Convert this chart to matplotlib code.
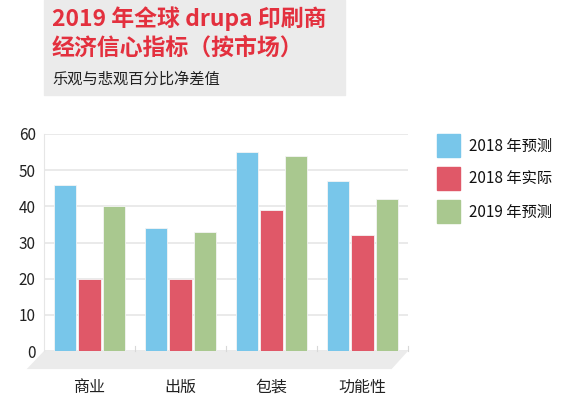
import numpy as np
import matplotlib.pyplot as plt
from matplotlib.patches import Polygon, Rectangle

plt.rcParams['font.family'] = ['Noto Sans CJK SC', 'DejaVu Sans']

categories = ["商业", "出版", "包装", "功能性"]
series = ["2018 年预测", "2018 年实际", "2019 年预测"]
f2018 = [46, 34, 55, 47]
a2018 = [20, 20, 39, 32]
f2019 = [40, 33, 54, 42]
colors = ["#78c6ea", "#e05868", "#a9c88f"]

W, H = 580, 396
fig = plt.figure(figsize=(W / 100, H / 100), dpi=100)

# title box
fig.patches.append(Rectangle((44 / W, 1 - 95 / H), 301 / W, 95 / H,
                             transform=fig.transFigure, color="#ebebeb", zorder=0))
fig.text(52 / W, 1 - 19 / H, "2019 年全球 drupa 印刷商", color="#e3303e",
         fontsize=16.5, fontweight="bold", va="center")
fig.text(52 / W, 1 - 48 / H, "经济信心指标（按市场）", color="#e3303e",
         fontsize=16.5, fontweight="bold", va="center")
fig.text(52 / W, 1 - 79 / H, "乐观与悲观百分比净差值", color="#222222",
         fontsize=11, va="center")

ax = fig.add_axes([44 / W, 1 - 351 / H, 364 / W, 217 / H])
x = np.arange(len(categories)) + 0.5
bw = 0.245
step = 0.268
for i, vals in enumerate([f2018, a2018, f2019]):
    ax.bar(x + (i - 1) * step, vals, bw, color=colors[i], edgecolor="#f4f4f4",
           linewidth=0.6, label=series[i], zorder=3)

ax.set_xlim(0, 4)
ax.set_ylim(0, 60)
ax.set_yticks(range(0, 61, 10))
ax.yaxis.grid(True, color="#e6e6e6", linewidth=1.2, zorder=0)
ax.tick_params(axis="y", length=0, pad=6, labelsize=11, labelcolor="#222222")
ax.set_xticks([])
for s in ["top", "right", "bottom"]:
    ax.spines[s].set_visible(False)
ax.spines["left"].set_color("#e6e6e6")

# floor
floor = Polygon([(0, 0), (4, 0), (3.82, -5), (-0.19, -5)], closed=True,
                facecolor="#ebebeb", edgecolor="none", clip_on=False, zorder=1)
ax.add_patch(floor)
for b in [1, 2, 3, 4]:
    ax.plot([b, b], [0, 1.3], color="#d8d8d8", lw=0.8, clip_on=False, zorder=2)
for xi, c in zip(x, categories):
    ax.text(xi, -10, c, ha="center", va="center", fontsize=11.5, color="#222222")

# legend
for i, s in enumerate(series):
    top = 134 + i * 33
    fig.patches.append(Rectangle((437 / W, 1 - (top + 23) / H), 23 / W, 23 / H,
                                 transform=fig.transFigure, color=colors[i]))
    fig.text(469 / W, 1 - (top + 12) / H, s, fontsize=11, va="center", color="#111111")

fig.savefig("out.png", dpi=100)
